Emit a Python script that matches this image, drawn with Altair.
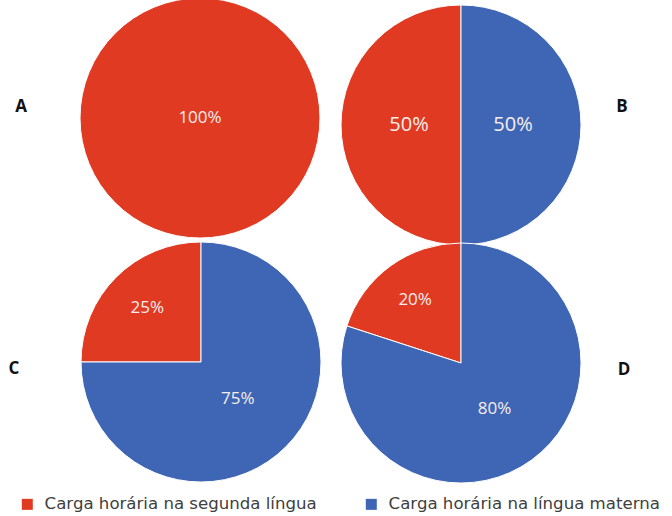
import altair as alt
import pandas as pd

pies = ["A", "B", "C", "D"]
segunda = [100, 50, 25, 20]
materna = [0, 50, 75, 80]
S1 = "Carga horária na segunda língua"
S2 = "Carga horária na língua materna"
series = [S1, S2]
colors = ["#E03A22", "#3F66B4"]

rows = []
for p, a, b in zip(pies, segunda, materna):
    rows.append({"pie": p, "serie": S1, "value": a})
    rows.append({"pie": p, "serie": S2, "value": b})
df = pd.DataFrame(rows)

centers = {"A": (200, 118), "B": (461, 125), "C": (201, 362), "D": (461, 363)}
label_r = {"A": (0, 0), "B": (53, 52), "C": (76, 52), "D": (78, 57)}
label_size = {"A": 17, "B": 20, "C": 17, "D": 17}
letter_pos = {"A": (21, 107), "B": (622, 107), "C": (14, 369), "D": (624, 370)}
R = 120

color = alt.Color(
    "serie:N",
    scale=alt.Scale(domain=series, range=colors),
    legend=alt.Legend(
        title=None, orient="none", legendX=19, legendY=496, direction="horizontal",
        symbolType="square", symbolSize=121, symbolStrokeWidth=0, labelFontSize=16.6,
        labelFont="DejaVu Sans", labelColor="#404040", labelLimit=400, columnPadding=46,
        labelOffset=9, padding=0, symbolOpacity=1,
    ),
)

layers = []
for p in pies:
    cx, cy = centers[p]
    base = (
        alt.Chart(df)
        .transform_filter(alt.datum.pie == p)
        .transform_filter(alt.datum.value > 0)
        .transform_calculate(ord=f"datum.serie == '{S2}' ? 0 : 1", label="datum.value + '%'")
    )
    arc = base.mark_arc(outerRadius=R, stroke="white", strokeWidth=1).encode(
        theta=alt.Theta("value:Q", stack=True),
        color=color,
        order=alt.Order("ord:Q"),
        x=alt.value(cx),
        y=alt.value(cy),
    )
    layers.append(arc)
    rs, rl = label_r[p]
    for rad, test in [(rs, "datum.value < 50"), (rl, "datum.value >= 50")]:
        txt = base.mark_text(radius=rad, fontSize=label_size[p], font="Open Sans", color="#F7EEEE").encode(
            theta=alt.Theta("value:Q", stack=True),
            order=alt.Order("ord:Q"),
            text=alt.condition(test, alt.Text("label:N"), alt.value("")),
            x=alt.value(cx),
            y=alt.value(cy),
        )
        layers.append(txt)

letters_df = pd.DataFrame({"letter": pies})
for p in pies:
    lx, ly = letter_pos[p]
    layers.append(
        alt.Chart(letters_df)
        .transform_filter(alt.datum.letter == p)
        .mark_text(fontSize=17, fontWeight="bold", font="Open Sans", color="#111111")
        .encode(text="letter:N", x=alt.value(lx), y=alt.value(ly))
    )

chart = (
    alt.layer(*layers)
    .properties(width=672, height=516, padding=0, autosize="none", background="white")
    .configure_view(stroke=None)
)
chart.save("out.html", embed_options={"renderer": "svg", "actions": False})
